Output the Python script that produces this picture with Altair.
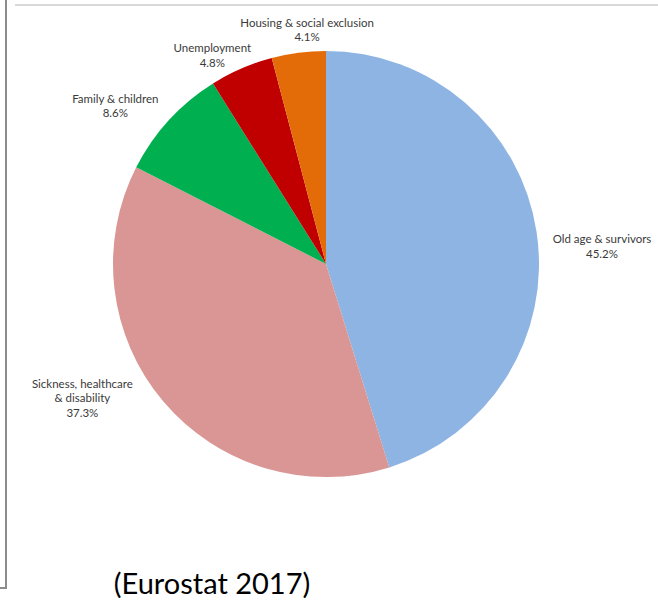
import math
import altair as alt
import pandas as pd

categories = ["Old age & survivors", "Sickness, healthcare\n& disability", "Family & children",
              "Unemployment", "Housing & social exclusion"]
shares = [45.2, 37.3, 8.6, 4.8, 4.1]
colors = ["#8EB4E3", "#D99694", "#00B050", "#C00000", "#E36C09"]

# label placement (angle in degrees clockwise from top, distance from centre)
label_angle_deg = [85.1, 243.6, 307.9, 332.1, 355.5]
label_dist = [277, 272, 267, 243, 241]

df = pd.DataFrame({
    "category": categories,
    "share": shares,
    "order": list(range(len(categories))),
    "label": [f"{c}\n{s:.1f}%" for c, s in zip(categories, shares)],
    "lab_theta": [math.radians(a) for a in label_angle_deg],
    "lab_r": label_dist,
})

CX, CY, R = 326, 264, 213

pie = alt.Chart(df).mark_arc(stroke=None).encode(
    theta=alt.Theta("share:Q", stack=True),
    order=alt.Order("order:Q"),
    color=alt.Color("category:N", scale=alt.Scale(domain=categories, range=colors), legend=None),
    x=alt.value(CX), y=alt.value(CY), radius=alt.value(R),
)

labels = alt.Chart(df).mark_text(
    font="Lato", fontSize=11.5, color="#3A3A3A", lineBreak="\n", lineHeight=14.5,
    align="center", baseline="middle",
).encode(
    theta=alt.Theta("lab_theta:Q", scale=None),
    radius=alt.Radius("lab_r:Q", scale=None),
    x=alt.value(CX), y=alt.value(CY),
    text="label:N",
)

deco = pd.DataFrame({"k": [0]})
top_line = alt.Chart(deco).mark_rule(color="#D9D9D9", strokeWidth=2).encode(
    x=alt.value(15), x2=alt.value(658), y=alt.value(5))
left_line = alt.Chart(deco).mark_rule(color="#8C8C8C", strokeWidth=2).encode(
    x=alt.value(6), y=alt.value(0), y2=alt.value(588))
bottom_tick = alt.Chart(deco).mark_rule(color="#8C8C8C", strokeWidth=2).encode(
    x=alt.value(0), x2=alt.value(7), y=alt.value(588))
source = alt.Chart(deco).mark_text(font="Lato", fontSize=29, color="#000000",
                                   align="center", baseline="alphabetic").encode(
    x=alt.value(212), y=alt.value(594), text=alt.value("(Eurostat 2017)"))

chart = alt.layer(pie, labels, top_line, left_line, bottom_tick, source).properties(
    width=658, height=604, padding=0, autosize=alt.AutoSizeParams(type="none"),
    background="white",
).configure_view(stroke=None)

chart.save("out.html", embed_options={"renderer": "svg", "actions": False})
